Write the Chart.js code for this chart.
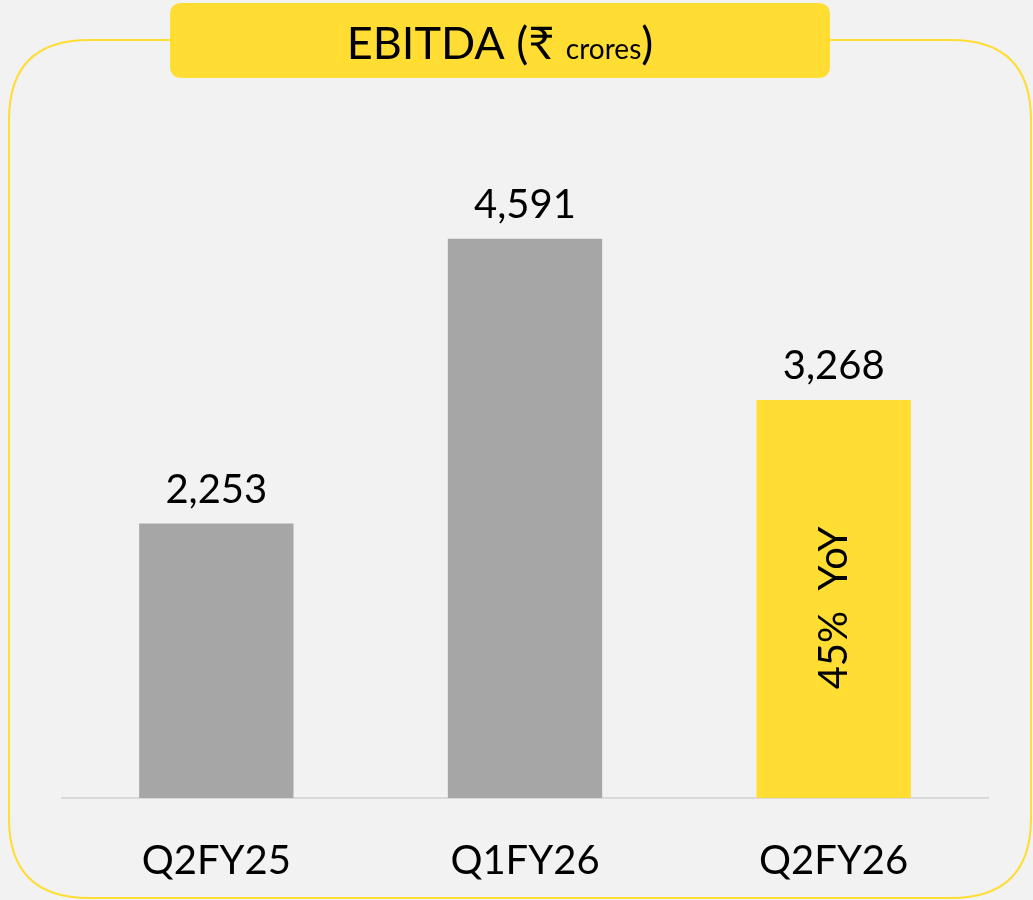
<!DOCTYPE html>
<html>
<head>
<meta charset="utf-8">
<script src="https://cdn.jsdelivr.net/npm/chart.js@4"></script>
<style>
    body { margin: 0; background: #f2f2f2; }
    #wrap { width: 1033px; height: 900px; position: relative; }
</style>
</head>
<body>
<div id="wrap"><canvas id="ebitdaChart" width="1033" height="900"></canvas></div>
<script>
// data
const quarters = ["Q2FY25", "Q1FY26", "Q2FY26"];
const ebitdaValues = [2253, 4591, 3268];
const barColors = ["#a6a6a6", "#a6a6a6", "#ffdd33"];
const yoyNote = "45%  YoY";
const titleMain = "EBITDA (₹ ";
const titleUnit = "crores";

const FONT = "Lato, 'Noto Sans', 'DejaVu Sans', sans-serif";

function roundRect(ctx, x, y, w, h, r) {
    ctx.beginPath();
    ctx.moveTo(x + r, y);
    ctx.lineTo(x + w - r, y);
    ctx.quadraticCurveTo(x + w, y, x + w, y + r);
    ctx.lineTo(x + w, y + h - r);
    ctx.quadraticCurveTo(x + w, y + h, x + w - r, y + h);
    ctx.lineTo(x + r, y + h);
    ctx.quadraticCurveTo(x, y + h, x, y + h - r);
    ctx.lineTo(x, y + r);
    ctx.quadraticCurveTo(x, y, x + r, y);
    ctx.closePath();
}

// frame + title badge behind the chart
const framePlugin = {
    id: 'frame',
    beforeDraw(chart) {
        const ctx = chart.ctx;
        ctx.save();
        ctx.fillStyle = "#f2f2f2";
        ctx.fillRect(0, 0, chart.width, chart.height);

        ctx.strokeStyle = "#ffdd33";
        ctx.lineWidth = 2;
        roundRect(ctx, 9, 40, 1022, 858, 80);
        ctx.stroke();

        ctx.fillStyle = "#ffdd33";
        roundRect(ctx, 170, 3, 660, 75, 12);
        ctx.fill();

        // title, with the unit in a smaller size
        ctx.fillStyle = "#000";
        ctx.textBaseline = "alphabetic";
        const bigFont = "45px " + FONT;
        const smallFont = "28px " + FONT;
        ctx.font = bigFont;
        const w1 = ctx.measureText(titleMain).width;
        const w3 = ctx.measureText(")").width;
        ctx.font = smallFont;
        const w2 = ctx.measureText(titleUnit).width;
        let x = 500 - (w1 + w2 + w3) / 2;
        ctx.textAlign = "left";
        ctx.font = bigFont;
        ctx.fillText(titleMain, x, 59);
        x += w1;
        ctx.font = smallFont;
        ctx.fillText(titleUnit, x, 59);
        x += w2;
        ctx.font = bigFont;
        ctx.fillText(")", x, 59);
        ctx.restore();
    }
};

// value labels above bars and the YoY note inside the last bar
const labelPlugin = {
    id: 'labels',
    afterDatasetsDraw(chart) {
        const ctx = chart.ctx;
        const meta = chart.getDatasetMeta(0);
        ctx.save();
        ctx.fillStyle = "#000";
        ctx.font = "40px " + FONT;
        ctx.textAlign = "center";
        ctx.textBaseline = "alphabetic";
        meta.data.forEach(function (bar, i) {
            ctx.fillText(ebitdaValues[i].toLocaleString('en-IN'), bar.x, bar.y - 21);
        });

        const last = meta.data[meta.data.length - 1];
        const midY = (last.y + last.base) / 2 + 9;
        ctx.translate(last.x, midY);
        ctx.rotate(-Math.PI / 2);
        ctx.textBaseline = "middle";
        ctx.fillText(yoyNote, 0, 0);
        ctx.restore();
    }
};

new Chart("ebitdaChart", {
    type: 'bar',
    data: {
        labels: quarters,
        datasets: [{
            data: ebitdaValues,
            backgroundColor: barColors,
            borderWidth: 0,
            categoryPercentage: 1,
            barPercentage: 0.5
        }]
    },
    options: {
        responsive: false,
        animation: false,
        layout: {
            padding: { left: 62, right: 45, top: 189, bottom: -24 }
        },
        plugins: {
            legend: { display: false },
            tooltip: { enabled: false },
            title: { display: false }
        },
        scales: {
            x: {
                grid: { display: true, color: 'transparent', drawTicks: false },
                border: { display: true, color: '#d9d9d9', width: 2 },
                ticks: {
                    color: '#000',
                    padding: 39,
                    font: { size: 40, family: FONT }
                }
            },
            y: {
                display: false,
                min: 0,
                max: 5000
            }
        }
    },
    plugins: [framePlugin, labelPlugin]
});
</script>
</body>
</html>
